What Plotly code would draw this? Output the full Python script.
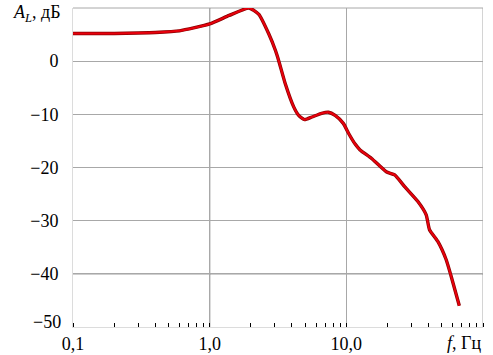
import plotly.graph_objects as go

# Frequency (Hz) and amplitude (dB)
freq = [0.1, 0.2, 0.3, 0.4, 0.6, 1.0, 1.39, 1.94, 2.29, 2.71, 3.03, 3.2, 3.58, 4.12,
        4.48, 4.95, 5.6, 6.6, 7.4, 8.28, 9.5, 10.4, 11.6, 12.6, 15.3, 19.6, 22.6,
        26.7, 33.4, 38.4, 40.6, 46.7, 53.7, 58.4, 67.1]
amp_db = [5.2, 5.2, 5.3, 5.4, 5.7, 7.0, 8.6, 10.0, 8.8, 5.1, 2.0, 0.1, -4.3, -8.6,
          -10.2, -11.0, -10.5, -9.8, -9.6, -10.2, -11.7, -13.6, -15.6, -16.7, -18.3, -20.8, -21.4,
          -23.6, -26.4, -28.9, -31.7, -33.9, -37.3, -40.4, -46.0]

x_tickvals = [0.1, 1, 10]
x_ticktext = ["0,1", "1,0", "10,0"]
y_tickvals = [-40, -30, -20, -10, 0]
y_ticktext = ["\u221240", "\u221230", "\u221220", "\u221210", "0"]
y_bottom_label = "\u221250"
y_axis_title = "<i>A</i><sub><i>L</i></sub>, дБ"
x_axis_title = "<i>f</i>, Гц"

FONT = "Liberation Serif"
GRID = "#a8a8a8"

fig = go.Figure()
fig.add_trace(go.Scatter(x=freq, y=amp_db, mode="lines",
                         line=dict(color="#8a0000", width=3.4, shape="spline", smoothing=0.5),
                         hoverinfo="skip", showlegend=False))
fig.add_trace(go.Scatter(x=freq, y=amp_db, mode="lines",
                         line=dict(color="#e8000c", width=2.0, shape="spline", smoothing=0.5),
                         showlegend=False))

fig.update_layout(
    width=493, height=355,
    margin=dict(l=73, r=10, t=8, b=28, autoexpand=False),
    paper_bgcolor="white", plot_bgcolor="white",
    font=dict(family=FONT, size=18, color="black"),
    xaxis=dict(type="log", range=[-1, 2], tickvals=x_tickvals, ticktext=x_ticktext,
               showgrid=True, gridcolor=GRID, gridwidth=1, automargin=False,
               showline=True, linecolor="#dcdcdc", linewidth=1, mirror=False,
               ticks="", zeroline=False,
               minor=dict(ticks="inside", ticklen=4, tickcolor="black", tickwidth=1,
                          dtick="D1", showgrid=False)),
    yaxis=dict(range=[-50, 10], tickvals=y_tickvals, ticktext=y_ticktext,
               showgrid=True, gridcolor=GRID, gridwidth=1, automargin=False,
               showline=True, linecolor="#dcdcdc", linewidth=1,
               ticks="", zeroline=False, ticklabelstandoff=10),
)

# top border gridline (+10 dB)
fig.add_shape(type="line", xref="paper", yref="paper", x0=0, x1=1, y0=1, y1=1,
              line=dict(color=GRID, width=1), layer="between")
# darker vertical reference line at 1.0
fig.add_shape(type="line", xref="x", yref="paper", x0=1, x1=1, y0=0, y1=1,
              line=dict(color="#222222", width=1), layer="between")
# right border gridline at 100
fig.add_shape(type="line", xref="x", yref="paper", x0=100, x1=100, y0=0, y1=1,
              line=dict(color=GRID, width=1), layer="between")
# darker horizontal gridline at -40
fig.add_shape(type="line", xref="paper", yref="y", x0=0, x1=1, y0=-40, y1=-40,
              line=dict(color="#6a6a6a", width=1), layer="between")

fig.add_annotation(xref="paper", yref="y", x=0, y=-50, xanchor="right", yanchor="middle",
                   xshift=-10, yshift=5, showarrow=False,
                   text=y_bottom_label, font=dict(family=FONT, size=18))
fig.add_annotation(xref="paper", yref="y", x=0, y=10, xanchor="right", yanchor="middle",
                   xshift=-10, yshift=-5, showarrow=False,
                   text=y_axis_title, font=dict(family=FONT, size=18))
fig.add_annotation(xref="x", yref="paper", x=2, y=0, xanchor="right", yanchor="top",
                   yshift=-4, showarrow=False,
                   text=x_axis_title, font=dict(family=FONT, size=18))

fig.write_html("out.html", config={"displayModeBar": False},
               post_script="document.body.style.margin='0';")
